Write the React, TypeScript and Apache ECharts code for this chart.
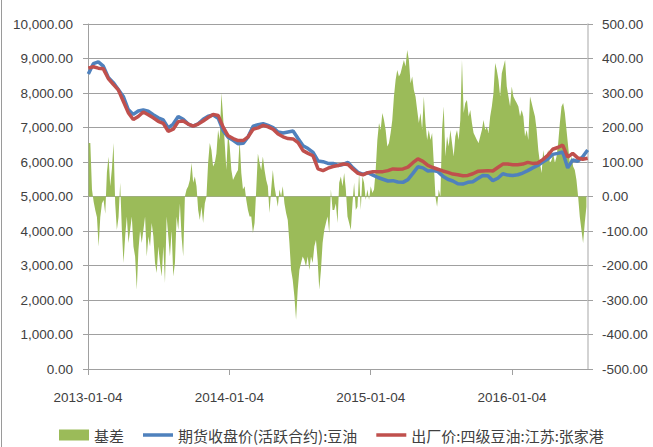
import React, { useEffect, useRef } from "react";
import * as echarts from "echarts";

// ---- data ----
const xTickDates = ["2013-01-04", "2014-01-04", "2015-01-04", "2016-01-04"];
const axisStart = "2013-01-04";
const axisEnd = "2016-07-18";

// prices sampled every ~12.9 days starting 2013-01-05
const priceStartOffsetDays = 0.85;
const priceStepDays = 12.893;
const futuresPrice = [
  8550, 8850, 8900, 8780, 8450, 8300, 8100, 7900, 7520, 7380,
  7480, 7510, 7470, 7370, 7280, 7220, 6990, 7100, 7320, 7240,
  7100, 7040, 7110, 7240, 7330, 7360, 7270, 6910, 6720, 6630,
  6530, 6540, 6730, 7040, 7080, 7110, 7060, 7000, 6870, 6840,
  6870, 6900, 6680, 6470, 6390, 6280, 6030, 6010, 5960, 5960,
  5900, 5930, 5990, 5830, 5700, 5640, 5690, 5620, 5550, 5500,
  5450, 5460, 5420, 5410, 5490, 5670, 5860, 5830, 5740, 5750,
  5720, 5590, 5500, 5450, 5370, 5360, 5410, 5430, 5520, 5610,
  5600, 5460, 5530, 5660, 5620, 5610, 5630, 5680, 5750, 5830,
  5900, 6000, 6090, 6220, 6250, 6290, 5830, 6060, 6020, 6150,
  6350,
];
const spotPrice = [
  8720, 8760, 8720, 8700, 8420, 8250, 8090, 7760, 7430, 7230,
  7320, 7450, 7370, 7280, 7180, 7120, 6890, 6950, 7170, 7190,
  7100, 7040, 7100, 7190, 7290, 7380, 7350, 7010, 6760, 6680,
  6620, 6620, 6730, 6950, 6990, 7060, 7020, 6950, 6810, 6730,
  6680, 6670, 6560, 6330, 6250, 6180, 5800, 5750, 5820, 5870,
  5900, 5940, 5930, 5790, 5670, 5630, 5690, 5720, 5720, 5720,
  5750, 5800, 5790, 5800, 5850, 5980, 6090, 6020, 5900, 5840,
  5790, 5740, 5700, 5650, 5630, 5600, 5610, 5660, 5730, 5740,
  5750, 5740, 5840, 5940, 5940, 5920, 5920, 5940, 5990, 5960,
  5970, 6070, 6190, 6370, 6420, 6490, 6140, 6250, 6120, 6080,
  6110,
];

// basis sampled every ~4.3 days
const basisStartOffsetDays = 1.7;
const basisStepDays = 4.284;
const basisValues = [
  155, 155, 20, -15, -40, -60, -145, -60, -20, -10,
  -50, 70, 115, 30, 80, 155, -20, -97, -60, 40,
  -97, -193, -116, -58, -135, -97, -58, -145, -174, -270,
  -155, -97, -135, -97, -58, -174, -116, -145, -77, -116,
  -193, -222, -145, -193, -232, -145, -251, -58,
  -116, -174, -97, -232, -193, -58, -97, -20, -116, -174,
  0, 20, 30, 48, 97, 40, 58, 30, -39, -68,
  -30, -77, -20, 0, 97, 155, 135, 87, 97, 125,
  193, 164, 300, 232, 155, 77, 184, 145, 77, 48,
  58, 68, 77, 164, 68, 20, 30, -10, -39, -58,
  -58, -106, -77, 20, 125, 97, 77, 116, 77, 48,
  30, -48, 20, 77, 30, 0, -30, 20, 0, 30,
  -20, -48, -68, -135, -213, -242, -290, -357, -270, -213,
  -193, -174, -184, -203, -174, -213, -174, -193, -145, -126,
  -184, -270, -213, -135, -97, -77, -58, -106, 20, -39,
  -39, -20, -77, 40, 58, 30, 68, 20, -58, -77,
  -97, -20, 40, -39, -30, 68, -39, 58, 40, -10,
  20, -10, 30, 10, 20, 77, 164, 213, 193, 242,
  222, 193, 145, 155, 184, 222, 290, 338, 367, 348,
  357, 377, 396, 377, 425, 396, 328, 348, 309, 290,
  251, 213, 242, 193, 290, 213, 164, 193, 164, 184,
  97, 0, -30, 20, 0, 193, 261, 116, 174, 145,
  193, 155, 116, 174, 193, 164, 222, 396, 242, 271,
  280, 232, 251, 213, 184, 174, 164, 155, 174, 193,
  222, 193, 203, 184, 232, 261, 300, 387, 367, 338,
  290, 357, 377, 396, 319, 290, 261, 319, 290, 280,
  271, 261, 232, 251, 232, 174, 193, 164, 290, 271,
  251, 232, 193, 135, 97, 68, 135, 97, 116, 135,
  97, 106, 125, 97, 116, 155, 213, 261, 271, 242,
  193, 145, 97, 116, 87, 77, 48, 0, -58, -97,
  -135, -77, -30,
];

const seriesNames = ["基差", "期货收盘价(活跃合约):豆油", "出厂价:四级豆油:江苏:张家港"];
const seriesColors = ["#9BBB59", "#4F81BD", "#C0504D"];

const DAY = 86400000;
function toTs(s: string) {
  const [y, m, d] = s.split("-").map(Number);
  return new Date(y, m - 1, d).getTime();
}
function pad(n: number) {
  return n < 10 ? "0" + n : "" + n;
}
function fmtDate(ts: number) {
  const d = new Date(ts);
  return d.getFullYear() + "-" + pad(d.getMonth() + 1) + "-" + pad(d.getDate());
}

// thin bar centred in a 30x11 box (degenerate sub-paths fix the bounding box)
const LINE_ICON = "path://M0,0h30v0.01h-30z M0,3.7h30v3.6h-30z M0,10.99h30v0.01h-30z";

export default function App() {
  const ref = useRef<HTMLDivElement>(null);
  useEffect(() => {
    document.body.style.margin = "0";
    const chart = echarts.init(ref.current!, null, { renderer: "svg" });
    const t0 = toTs(axisStart);
    const basisData = basisValues.map((v, i) => [t0 + (basisStartOffsetDays + i * basisStepDays) * DAY, v]);
    const futData = futuresPrice.map((v, i) => [t0 + (priceStartOffsetDays + i * priceStepDays) * DAY, v]);
    const spotData = spotPrice.map((v, i) => [t0 + (priceStartOffsetDays + i * priceStepDays) * DAY, v]);
    const tickTs = xTickDates.map(toTs);
    const labelFont = "'Liberation Sans', Arial, sans-serif";
    const textColor = "#404040";
    const gridColor = "#a0a0a0";

    chart.setOption({
      animation: false,
      backgroundColor: "#ffffff",
      grid: { left: 88, right: 65, top: 24, bottom: 78 },
      graphic: [
        { type: "line", shape: { x1: 1.5, y1: 0, x2: 1.5, y2: 447 }, style: { stroke: "#9a9a9a", lineWidth: 1 } },
      ],
      legend: {
        left: 59,
        top: 427,
        padding: 0,
        itemGap: 19,
        itemWidth: 30,
        itemHeight: 11,
        textStyle: {
          fontSize: 15,
          lineHeight: 16,
          color: textColor,
          fontFamily: "'Noto Sans CJK SC', sans-serif",
        },
        data: [
          { name: seriesNames[0], icon: "rect", itemStyle: { color: seriesColors[0] } },
          { name: seriesNames[1], icon: LINE_ICON, itemStyle: { color: seriesColors[1] } },
          { name: seriesNames[2], icon: LINE_ICON, itemStyle: { color: seriesColors[2] } },
        ],
      },
      xAxis: {
        type: "value",
        min: t0,
        max: toTs(axisEnd),
        axisLine: { show: true, onZero: false, lineStyle: { color: gridColor, width: 1 } },
        axisTick: { show: true, customValues: tickTs, length: 6, lineStyle: { color: gridColor } },
        axisLabel: {
          customValues: tickTs,
          formatter: (v: number) => fmtDate(v),
          fontSize: 13.5,
          fontFamily: labelFont,
          color: textColor,
          margin: 21,
        },
        splitLine: { show: false },
      },
      yAxis: [
        {
          type: "value",
          min: 0,
          max: 10000,
          interval: 1000,
          axisLine: { show: true, lineStyle: { color: gridColor } },
          axisTick: { show: true, length: 5, lineStyle: { color: gridColor } },
          axisLabel: {
            formatter: (v: number) => v.toLocaleString("en-US", { minimumFractionDigits: 2, maximumFractionDigits: 2 }),
            fontSize: 13.5,
            fontFamily: labelFont,
            color: textColor,
            margin: 15,
          },
          splitLine: { show: true, lineStyle: { color: gridColor, width: 1 } },
        },
        {
          type: "value",
          min: -500,
          max: 500,
          interval: 100,
          axisLine: { show: true, lineStyle: { color: "#c4c4c4", width: 1.5 } },
          axisTick: { show: true, length: 5, lineStyle: { color: gridColor } },
          axisLabel: {
            formatter: (v: number) => v.toFixed(2),
            fontSize: 13.5,
            fontFamily: labelFont,
            color: textColor,
            margin: 14,
          },
          splitLine: { show: false },
        },
      ],
      series: [
        {
          name: seriesNames[0],
          type: "line",
          yAxisIndex: 1,
          data: basisData,
          symbol: "none",
          lineStyle: { width: 0, color: seriesColors[0] },
          itemStyle: { color: seriesColors[0] },
          areaStyle: { color: seriesColors[0], opacity: 1, origin: 0 },
          z: 1,
        },
        {
          name: seriesNames[1],
          type: "line",
          data: futData,
          symbol: "none",
          lineStyle: { width: 3.5, color: seriesColors[1] },
          itemStyle: { color: seriesColors[1] },
          z: 2,
        },
        {
          name: seriesNames[2],
          type: "line",
          data: spotData,
          symbol: "none",
          lineStyle: { width: 3.5, color: seriesColors[2] },
          itemStyle: { color: seriesColors[2] },
          z: 3,
        },
      ],
    });
    return () => chart.dispose();
  }, []);
  return <div ref={ref} style={{ position: "fixed", left: 0, top: 0, width: 653, height: 447 }} />;
}
